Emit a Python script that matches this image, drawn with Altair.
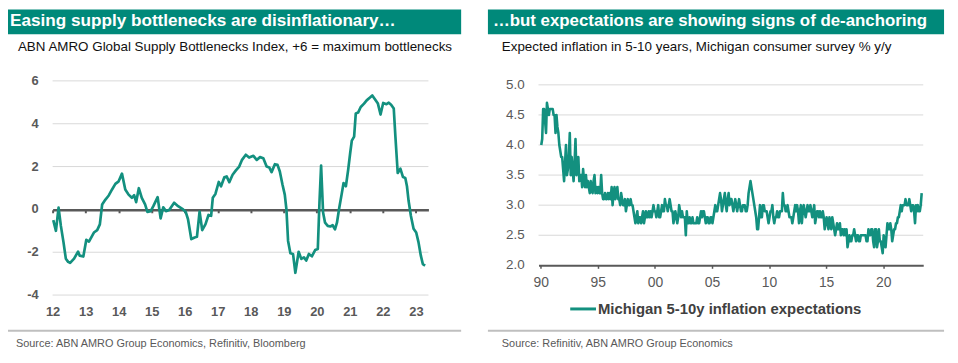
import altair as alt
import pandas as pd

FONT = "Liberation Sans, Arial, Helvetica, sans-serif"
TEAL = "#00897A"
LINE = "#13907F"
GRID = "#D9D9D9"
AXIS = "#595959"

# ---------------- texts ----------------
left_title = "Easing supply bottlenecks are disinflationary\u2026"
right_title = "\u2026but expectations are showing signs of de-anchoring"
left_subtitle = "ABN AMRO Global Supply Bottlenecks Index, +6 = maximum bottlenecks"
right_subtitle = "Expected inflation in 5-10 years, Michigan consumer survey % y/y"
left_source = "Source: ABN AMRO Group Economics, Refinitiv, Bloomberg"
right_source = "Source: Refinitiv, ABN AMRO Group Economics"
legend_label = "Michigan 5-10y inflation expectations"

# ---------------- left panel data ----------------
left_time = [
    2012.02, 2012.10, 2012.18, 2012.25, 2012.33, 2012.40, 2012.47, 2012.53, 2012.65, 2012.77,
    2012.82, 2012.93, 2013.02, 2013.10, 2013.25, 2013.35, 2013.43, 2013.50, 2013.60, 2013.70,
    2013.80, 2013.90, 2014.00, 2014.10, 2014.20, 2014.30, 2014.40, 2014.47, 2014.53, 2014.61,
    2014.70, 2014.80, 2014.87, 2014.97, 2015.05, 2015.18, 2015.27, 2015.35, 2015.43, 2015.53,
    2015.68, 2015.80, 2015.95, 2016.03, 2016.10, 2016.20, 2016.30, 2016.37, 2016.45, 2016.53,
    2016.63, 2016.72, 2016.80, 2016.85, 2016.93, 2017.03, 2017.10, 2017.20, 2017.27, 2017.35,
    2017.45, 2017.55, 2017.65, 2017.73, 2017.85, 2017.95, 2018.08, 2018.18, 2018.28, 2018.38,
    2018.48, 2018.56, 2018.63, 2018.73, 2018.81, 2018.88, 2018.96, 2019.03, 2019.08, 2019.13,
    2019.20, 2019.28, 2019.35, 2019.45, 2019.53, 2019.61, 2019.68, 2019.76, 2019.85, 2019.95,
    2020.03, 2020.08, 2020.13, 2020.19, 2020.25, 2020.33, 2020.41, 2020.48, 2020.55, 2020.61,
    2020.68, 2020.75, 2020.81, 2020.88, 2020.95, 2021.01, 2021.06, 2021.13, 2021.18, 2021.25,
    2021.33, 2021.43, 2021.51, 2021.61, 2021.68, 2021.76, 2021.85, 2021.93, 2022.01, 2022.11,
    2022.18, 2022.25, 2022.33, 2022.38, 2022.45, 2022.53, 2022.61, 2022.68, 2022.73, 2022.78,
    2022.85, 2022.93, 2023.01, 2023.08, 2023.15, 2023.21, 2023.28,
]
left_values = [
    -0.50, -1.00, 0.08, -0.77, -1.54, -2.30, -2.45, -2.50, -2.30, -1.97,
    -2.16, -2.20, -1.42, -1.50, -1.08, -0.97, -0.70, 0.23, 0.46, 0.65,
    0.93, 1.19, 1.31, 1.67, 0.93, 0.69, 0.54, 0.66, 0.34, 0.99,
    0.54, 0.23, -0.12, -0.08, 0.15, 0.57, -0.42, 0.10, -0.08, -0.03,
    0.31, 0.15, 0.00, -0.12, -0.46, -1.39, -1.31, -1.28, -0.10, -0.97,
    -0.69, -0.26, -0.30, 0.54, 0.72, 1.28, 1.08, 1.50, 1.54, 1.27,
    1.62, 1.82, 2.00, 2.30, 2.55, 2.42, 2.50, 2.31, 2.44, 2.39,
    2.00, 1.96, 1.74, 2.11, 2.08, 1.77, 1.16, 0.69, 0.00, -1.47,
    -2.05, -2.08, -2.96, -1.98, -2.31, -2.24, -2.39, -2.08, -2.19, -1.90,
    -1.85, 0.31, 2.05, -0.15, -0.62, -0.77, -0.80, -0.74, -0.93, -0.62,
    0.08, 0.69, 1.23, 1.08, 1.85, 2.62, 3.21, 3.40, 4.48, 4.52,
    4.78, 4.94, 5.09, 5.22, 5.32, 5.14, 4.94, 4.43, 4.97, 4.91,
    4.98, 4.89, 4.71, 3.40, 1.70, 1.90, 1.51, 1.47, 1.08, 0.39,
    -0.31, -0.90, -1.08, -1.54, -2.16, -2.55, -2.62,
]
left_grid = [-4, -2, 2, 4, 6]
left_yticks = [-4, -2, 0, 2, 4, 6]
left_ylabels = ["-4", "-2", "0", "2", "4", "6"]
left_xticks = list(range(2012, 2024))

# ---------------- right panel data (monthly, from Jan 1990) ----------------
mich_start_year = 1990
mich_values = [
    4.0, 4.1, 4.6, 4.6, 4.4, 4.2, 4.7, 4.6, 4.5, 4.6, 4.6, 4.6,  # 1990
    4.6, 4.5, 4.5, 4.2, 4.5, 4.3, 4.2, 4.0, 3.9, 3.8, 3.8, 3.6,  # 1991
    3.4, 3.7, 4.0, 3.5, 3.6, 3.8, 4.2, 3.5, 3.8, 3.6, 3.4, 3.7,  # 1992
    4.1, 3.5, 3.7, 3.8, 3.4, 3.5, 3.5, 3.3, 3.6, 3.4, 3.3, 3.5,  # 1993
    3.3, 3.4, 3.3, 3.2, 3.4, 3.3, 3.2, 3.4, 3.5, 3.2, 3.3, 3.2,  # 1994
    3.3, 3.2, 3.2, 3.5, 3.2, 3.1, 3.1, 3.2, 3.1, 3.1, 3.2, 3.1,  # 1995
    3.2, 3.1, 3.3, 3.0, 3.2, 3.3, 3.1, 3.2, 3.3, 3.1, 3.1, 3.0,  # 1996
    3.2, 3.1, 3.0, 3.0, 3.1, 2.9, 3.0, 3.1, 3.0, 3.0, 3.1, 3.0,  # 1997
    3.0, 2.9, 2.8, 2.7, 2.8, 2.9, 2.7, 2.8, 2.8, 2.7, 2.8, 2.9,  # 1998
    2.7, 2.8, 2.9, 2.8, 2.8, 2.9, 2.8, 2.9, 2.8, 2.9, 3.0, 2.9,  # 1999
    2.9, 2.8, 2.9, 3.0, 2.8, 2.8, 2.9, 3.0, 2.9, 2.9, 3.1, 3.0,  # 2000
    3.0, 2.9, 3.0, 3.1, 3.0, 2.9, 2.9, 2.7, 2.8, 2.9, 2.8, 2.7,  # 2001
    2.8, 3.0, 2.9, 2.8, 2.9, 2.8, 2.8, 2.8, 2.5, 2.9, 2.7, 2.7,  # 2002
    2.8, 2.7, 2.7, 2.8, 2.7, 2.7, 2.7, 2.7, 2.8, 2.7, 2.7, 2.8,  # 2003
    2.9, 2.8, 2.9, 2.9, 2.8, 2.7, 2.8, 2.8, 2.7, 2.7, 2.8, 2.8,  # 2004
    2.7, 2.8, 2.9, 3.0, 2.9, 2.9, 3.0, 3.1, 3.2, 3.1, 2.9, 3.0,  # 2005
    3.1, 3.2, 3.0, 2.9, 3.1, 3.2, 3.0, 3.1, 3.1, 3.0, 2.9, 3.0,  # 2006
    3.1, 3.0, 2.9, 3.0, 3.1, 3.0, 2.9, 2.9, 3.0, 3.0, 3.0, 2.9,  # 2007
    2.9, 3.0, 3.2, 3.3, 3.4, 3.3, 3.2, 3.1, 3.0, 2.9, 2.8, 2.6,  # 2008
    2.6, 2.8, 3.0, 2.8, 2.8, 3.0, 3.0, 2.9, 2.9, 2.9, 2.8, 2.7,  # 2009
    2.8, 2.9, 2.9, 3.0, 2.8, 2.7, 2.8, 2.8, 2.9, 2.8, 2.8, 2.9,  # 2010
    2.9, 2.9, 3.2, 3.0, 3.0, 2.9, 2.9, 3.0, 2.9, 2.8, 2.8, 2.8,  # 2011
    2.7, 2.8, 2.9, 3.0, 2.9, 3.0, 2.9, 2.7, 2.9, 3.0, 2.7, 2.9,  # 2012
    3.0, 2.9, 2.8, 2.9, 3.0, 2.9, 2.9, 3.0, 2.9, 2.8, 2.9, 3.0,  # 2013
    2.7, 2.8, 2.9, 2.9, 2.8, 2.9, 2.8, 2.8, 2.9, 2.8, 2.6, 2.7,  # 2014
    2.8, 2.7, 2.6, 2.8, 2.7, 2.6, 2.8, 2.7, 2.6, 2.5, 2.6, 2.7,  # 2015
    2.6, 2.6, 2.7, 2.5, 2.6, 2.6, 2.5, 2.6, 2.5, 2.6, 2.3, 2.4,  # 2016
    2.5, 2.4, 2.4, 2.5, 2.5, 2.6, 2.5, 2.4, 2.5, 2.5, 2.4, 2.4,  # 2017
    2.5, 2.5, 2.5, 2.5, 2.5, 2.5, 2.4, 2.4, 2.6, 2.5, 2.5, 2.6,  # 2018
    2.6, 2.4, 2.3, 2.6, 2.6, 2.3, 2.4, 2.6, 2.4, 2.4, 2.3, 2.2,  # 2019
    2.5, 2.4, 2.3, 2.5, 2.7, 2.6, 2.6, 2.7, 2.6, 2.4, 2.5, 2.6,  # 2020
    2.6, 2.7, 2.7, 2.8, 2.8, 2.9, 3.0, 2.9, 3.0, 3.0, 3.0, 3.1,  # 2021
    3.0, 3.0, 3.0, 3.1, 3.0, 2.9, 3.0, 3.0, 2.9, 2.7, 3.0, 2.9,  # 2022
    3.0, 2.9, 2.9, 3.0, 3.2,                                     # 2023
]
right_grid = [2.5, 3.0, 3.5, 4.0, 4.5, 5.0]
right_yticks = [2.0, 2.5, 3.0, 3.5, 4.0, 4.5, 5.0]
right_ylabels = ["2.0", "2.5", "3.0", "3.5", "4.0", "4.5", "5.0"]
right_xticks = [1990, 1995, 2000, 2005, 2010, 2015, 2020]

df_left = pd.DataFrame({"t": left_time, "v": left_values})
df_right = pd.DataFrame({
    "t": [mich_start_year + i / 12 + 1 / 24 for i in range(len(mich_values))],
    "v": mich_values,
})

# ---------------- left panel ----------------
xl_scale = alt.Scale(domain=[2012, 2023.38], range=[45, 424], nice=False, zero=False)
yl_scale = alt.Scale(domain=[-4, 6], range=[288, 72], nice=False, zero=False)

grid_l = alt.Chart(pd.DataFrame({"g": left_grid})).mark_rule(color=GRID, strokeWidth=1).encode(
    y=alt.Y("g:Q", scale=yl_scale, axis=None),
    x=alt.value(45), x2=alt.value(424),
)
ylab_l = alt.Chart(pd.DataFrame({"g": left_yticks, "lab": left_ylabels})).mark_text(
    align="right", baseline="middle", font=FONT, fontSize=13, fontWeight="bold", color=AXIS
).encode(
    y=alt.Y("g:Q", scale=yl_scale, axis=None),
    x=alt.value(31), text="lab:N",
)
line_l = alt.Chart(df_left).mark_line(color=LINE, strokeWidth=2.7, strokeJoin="round").encode(
    x=alt.X("t:Q", scale=xl_scale, axis=alt.Axis(
        orient="bottom", offset=-153, values=left_xticks,
        labelExpr="substring(toString(datum.value), 2, 4)",
        grid=False, domain=True, domainColor=AXIS, domainWidth=2.5,
        ticks=True, tickColor=AXIS, tickWidth=2, tickSize=3,
        labelPadding=94, labelFont=FONT, labelFontSize=13, labelFontWeight="bold",
        labelColor=AXIS, labelFlush=False, labelOverlap=False, title=None)),
    y=alt.Y("v:Q", scale=yl_scale, axis=None),
)
left_panel = alt.layer(grid_l, ylab_l, line_l)

# ---------------- right panel ----------------
xr_scale = alt.Scale(domain=[1989.8, 2023.51], range=[535, 923], nice=False, zero=False)
yr_scale = alt.Scale(domain=[2, 5], range=[258, 76], nice=False, zero=False)

grid_r = alt.Chart(pd.DataFrame({"g": right_grid})).mark_rule(color=GRID, strokeWidth=1).encode(
    y=alt.Y("g:Q", scale=yr_scale, axis=None),
    x=alt.value(535), x2=alt.value(923),
)
ylab_r = alt.Chart(pd.DataFrame({"g": right_yticks, "lab": right_ylabels})).mark_text(
    align="right", baseline="middle", font=FONT, fontSize=13.5, color=AXIS
).encode(
    y=alt.Y("g:Q", scale=yr_scale, axis=None),
    x=alt.value(521), text="lab:N",
)
line_r = alt.Chart(df_right).mark_line(color=LINE, strokeWidth=2.6, strokeJoin="round").encode(
    x=alt.X("t:Q", scale=xr_scale, axis=alt.Axis(
        orient="bottom", offset=-97, values=right_xticks,
        labelExpr="substring(toString(datum.value), 2, 4)",
        grid=False, domain=True, domainColor=AXIS, domainWidth=2,
        ticks=True, tickColor=AXIS, tickWidth=1.5, tickSize=3,
        labelPadding=7, labelFont=FONT, labelFontSize=14, labelColor=AXIS,
        labelFlush=False, labelOverlap=False, title=None)),
    y=alt.Y("v:Q", scale=yr_scale, axis=None),
)
right_panel = alt.layer(grid_r, ylab_r, line_r)

# ---------------- decorations ----------------
one = pd.DataFrame({"k": [0]})


def rect(x, x2, y, y2, color):
    return alt.Chart(one).mark_rect(color=color).encode(
        x=alt.value(x), x2=alt.value(x2), y=alt.value(y), y2=alt.value(y2))


def text(s, x, y, size, color, weight="normal", font=FONT):
    return alt.Chart(one).mark_text(
        align="left", baseline="middle", font=font, fontSize=size,
        fontWeight=weight, color=color).encode(
        x=alt.value(x), y=alt.value(y), text=alt.value(s))


def hrule(x, x2, y, color, width):
    return alt.Chart(one).mark_rule(color=color, strokeWidth=width).encode(
        x=alt.value(x), x2=alt.value(x2), y=alt.value(y))


decor = [
    rect(0, 457, 0, 25, TEAL),
    rect(484, 944, 0, 25, TEAL),
    text(left_title, 2, 12, 17.3, "white", "bold"),
    text(right_title, 489, 12, 17, "white", "bold"),
    text(left_subtitle, 10, 38, 13.5, "#111111"),
    text(right_subtitle, 498, 38, 13.5, "#111111"),
    hrule(0, 457, 324, "#BFBFBF", 2),
    hrule(484, 944, 324, "#BFBFBF", 2),
    text(left_source, 8, 337, 11, AXIS),
    text(right_source, 498, 337, 11, AXIS),
    hrule(567, 593, 302, LINE, 3),
    text(legend_label, 595, 302, 15, "#404040", "bold"),
]

chart = (
    alt.layer(left_panel, right_panel, *decor)
    .resolve_scale(x="independent", y="independent")
    .properties(width=950, height=355, padding=0,
                autosize=alt.AutoSizeParams(type="none"))
    .configure_view(stroke=None)
)

chart.save("out.html", embed_options={"renderer": "svg", "actions": False})
